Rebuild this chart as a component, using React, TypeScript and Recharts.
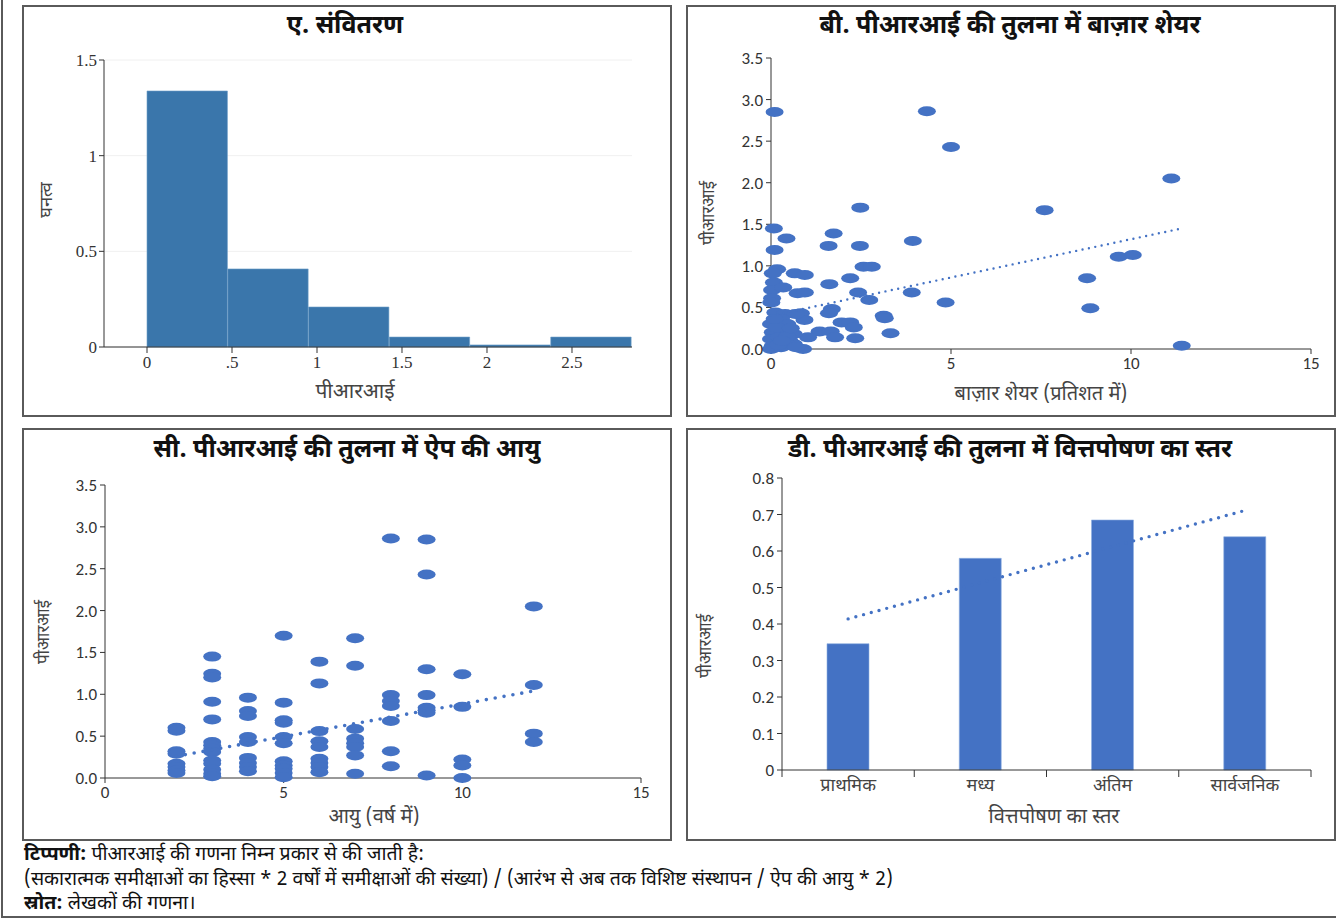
import React from 'react';
import {
  BarChart,
  Bar,
  XAxis,
  YAxis,
  CartesianGrid,
  ScatterChart,
  Scatter,
  ComposedChart,
  Line,
} from 'recharts';

const HINDI = "'Noto Sans Devanagari', 'Lohit Devanagari', 'Noto Sans', sans-serif";
const NUM = "Carlito, 'Liberation Sans Narrow', 'Liberation Sans', sans-serif";
const SERIF = "'Liberation Serif', 'DejaVu Serif', serif";
const BLUE = '#4472C4';

// A. histogram (bin centres, bin width 0.475)
const binMid = [0.2375, 0.7125, 1.1875, 1.6625, 2.1375, 2.6125];
const binDensity = [1.338, 0.408, 0.209, 0.052, 0.011, 0.052];
const histTicks = [0, 0.5, 1, 1.5, 2, 2.5];
const histTickText = ['0', '.5', '1', '1.5', '2', '2.5'];

// B. PRI vs market share
const marketShare = [
  0.1, 4.33, 5.0, 11.12, 2.48, 7.6, 0.08, 0.43, 1.74, 1.6, 2.47, 3.94, 0.1, 9.66, 10.05,
  2.57, 2.8, 0.17, 0.05, 0.66, 0.94, 2.2, 8.78, 0.08, 0.03, 0.34, 1.62, 0.74, 0.94, 2.42,
  3.91, 0.03, 0.01, 2.73, 4.85, 8.87, 1.69, 1.61, 0.83, 0.93, 3.13, 3.16, 1.96, 2.2, 2.3,
  1.35, 1.66, 3.32, 1.03, 1.78, 2.34, 11.41, 0.89,
  0.12, 0.39, 0.68, 0.0, 0.28, 0.45, 0.05, 0.34, 0.63, 0.0, 0.22, 0.51, 0.05, 0.28, 0.63,
  0.16, 0.0, 0.4, 0.2, 0.45, 0.1, 0.55, 0.3, 0.7,
];
const priB = [
  2.85, 2.86, 2.43, 2.05, 1.7, 1.67, 1.45, 1.33, 1.39, 1.24, 1.24, 1.3, 1.19, 1.11, 1.13,
  0.99, 0.99, 0.96, 0.91, 0.91, 0.89, 0.85, 0.85, 0.8, 0.71, 0.74, 0.78, 0.67, 0.68, 0.68,
  0.68, 0.61, 0.56, 0.59, 0.56, 0.49, 0.48, 0.43, 0.43, 0.35, 0.4, 0.37, 0.32, 0.32, 0.26,
  0.21, 0.21, 0.19, 0.14, 0.14, 0.13, 0.04, 0.0,
  0.44, 0.42, 0.42, 0.3, 0.36, 0.3, 0.2, 0.22, 0.18, 0.12, 0.14, 0.1, 0.04, 0.02, 0.06,
  0.26, 0.0, 0.08, 0.05, 0.15, 0.36, 0.25, 0.1, 0.02,
];
const trendShare = [0, 11.41];
const trendPriB = [0.4, 1.45];

// C. PRI vs app age
const ageYears = [
  2, 2, 2, 2, 2, 2, 2, 2,
  3, 3, 3, 3, 3, 3, 3, 3, 3, 3, 3, 3, 3, 3,
  4, 4, 4, 4, 4, 4, 4, 4, 4,
  5, 5, 5, 5, 5, 5, 5, 5, 5, 5, 5,
  6, 6, 6, 6, 6, 6, 6, 6, 6,
  7, 7, 7, 7, 7, 7, 7, 7,
  8, 8, 8, 8, 8, 8, 8,
  9, 9, 9, 9, 9, 9, 9, 9,
  10, 10, 10, 10, 10,
  12, 12, 12, 12,
];
const priC = [
  0.6, 0.565, 0.32, 0.29, 0.17, 0.13, 0.09, 0.06,
  1.45, 1.245, 1.2, 0.91, 0.7, 0.43, 0.39, 0.35, 0.31, 0.21, 0.17, 0.1, 0.05, 0.02,
  0.96, 0.8, 0.74, 0.49, 0.43, 0.24, 0.18, 0.13, 0.08,
  1.7, 0.9, 0.69, 0.66, 0.49, 0.415, 0.2, 0.15, 0.11, 0.06, 0.01,
  1.39, 1.13, 0.56, 0.44, 0.37, 0.23, 0.18, 0.13, 0.07,
  1.67, 1.34, 0.585, 0.47, 0.415, 0.37, 0.27, 0.05,
  2.86, 0.99, 0.92, 0.86, 0.68, 0.32, 0.14,
  2.85, 2.43, 1.3, 0.99, 0.84, 0.81, 0.78, 0.03,
  1.24, 0.85, 0.22, 0.15, 0.0,
  2.05, 1.11, 0.53, 0.43,
];
const trendAge = [2, 12];
const trendPriC = [0.26, 1.04];

// D. PRI vs funding stage
const fundingStages = ['प्राथमिक', 'मध्य', 'अंतिम', 'सार्वजनिक'];
const priByStage = [0.346, 0.58, 0.685, 0.639];
const stageTrend = [0.414, 0.513, 0.612, 0.711];

const histData = binMid.map((mid, i) => ({ mid, density: binDensity[i] }));
const scatterB = marketShare.map((x, i) => ({ x, y: priB[i] }));
const trendB = trendShare.map((x, i) => ({ x, y: trendPriB[i] }));
const scatterC = ageYears.map((x, i) => ({ x, y: priC[i] }));
const trendC = trendAge.map((x, i) => ({ x, y: trendPriC[i] }));
const stageData = fundingStages.map((stage, i) => ({
  stage,
  pri: priByStage[i],
  trend: stageTrend[i],
}));

const Ellipse = (props: any) => (
  <ellipse cx={props.cx} cy={props.cy} rx={9} ry={5} fill={BLUE} />
);
const Nothing = () => <g />;

// category tick with tick marks on the band edges
const StageTick = (props: any) => {
  const { x, y, payload, index, visibleTicksCount } = props;
  const half = payload.offset || 0;
  const last = index === visibleTicksCount - 1;
  return (
    <g>
      <line x1={x - half} x2={x - half} y1={y - 8} y2={y - 1} stroke="#333" />
      {last && <line x1={x + half} x2={x + half} y1={y - 8} y2={y - 1} stroke="#333" />}
      <text x={x} y={y} dy={13} textAnchor="middle" fill="#444" fontSize={18} fontFamily={HINDI}>
        {payload.value}
      </text>
    </g>
  );
};

const abs = (left: number, top: number): React.CSSProperties => ({
  position: 'absolute',
  left,
  top,
});

function Panel({ left, top, width, height }: any) {
  return (
    <div
      style={{
        ...abs(left, top),
        width,
        height,
        border: '2px solid #5a5a5a',
        boxSizing: 'border-box',
      }}
    />
  );
}

function Title({ x, y, text }: any) {
  return (
    <div
      style={{
        ...abs(x, y),
        transform: 'translate(-50%, -50%)',
        whiteSpace: 'nowrap',
        fontFamily: HINDI,
        fontWeight: 700,
        fontSize: 25,
        color: '#111',
      }}
    >
      {text}
    </div>
  );
}

function AxisLabel({ x, y, text, rotate, size }: any) {
  return (
    <div
      style={{
        ...abs(x, y),
        transform: `translate(-50%, -50%)${rotate ? ' rotate(-90deg)' : ''}`,
        whiteSpace: 'nowrap',
        fontFamily: HINDI,
        fontSize: size || 17,
        color: '#444',
      }}
    >
      {text}
    </div>
  );
}

const numTick = { fill: '#333', fontSize: 17, fontFamily: NUM };
const serifTick = { fill: '#333', fontSize: 17, fontFamily: SERIF };

export default function App() {
  return (
    <div style={{ ...abs(0, 0), width: 1336, height: 918, background: '#fff', overflow: 'hidden' }}>
      <div
        style={{
          ...abs(1, -4),
          width: 1340,
          height: 922,
          borderLeft: '2px solid #5a5a5a',
          borderBottom: '2px solid #5a5a5a',
          boxSizing: 'border-box',
        }}
      />
      <Panel left={22} top={5} width={650} height={412} />
      <Panel left={686} top={5} width={650} height={412} />
      <Panel left={22} top={428} width={650} height={413} />
      <Panel left={686} top={428} width={650} height={413} />

      {/* A */}
      <div style={abs(24, 7)}>
        <BarChart
          width={646}
          height={408}
          data={histData}
          barCategoryGap={0}
          barGap={0}
          margin={{ top: 53, right: 38, bottom: 38, left: 40 }}
        >
          <CartesianGrid vertical={false} stroke="#f0f0f0" />
          <XAxis
            type="number"
            dataKey="mid"
            domain={[-0.253, 2.853]}
            allowDataOverflow
            ticks={histTicks}
            tickFormatter={(v: number) => histTickText[histTicks.indexOf(v)]}
            height={30}
            stroke="#333"
            tickSize={6}
            tickMargin={3}
            tick={serifTick}
          />
          <YAxis
            domain={[0, 1.5]}
            ticks={[0, 0.5, 1, 1.5]}
            width={40}
            stroke="#333"
            tickSize={5}
            tickMargin={2}
            tick={serifTick}
          />
          <Bar
            dataKey="density"
            barSize={80.4}
            fill="#3A76AB"
            stroke="#6d9dc8"
            strokeWidth={0.6}
            isAnimationActive={false}
          />
        </BarChart>
      </div>
      <Title x={345} y={27} text="ए. संवितरण" />
      <AxisLabel x={355} y={393} text="पीआरआई" size={21} />
      <AxisLabel x={47} y={200} text="घनत्व" rotate size={18} />

      {/* B */}
      <div style={abs(688, 7)}>
        <ScatterChart
          width={646}
          height={408}
          margin={{ top: 51, right: 23, bottom: 36, left: 43 }}
        >
          <XAxis
            type="number"
            dataKey="x"
            domain={[0, 15]}
            ticks={[0, 5, 10, 15]}
            height={30}
            stroke="#333"
            tickSize={5}
            tickMargin={3}
            tick={numTick}
          />
          <YAxis
            type="number"
            dataKey="y"
            domain={[0, 3.5]}
            ticks={[0, 0.5, 1, 1.5, 2, 2.5, 3, 3.5]}
            tickFormatter={(v: number) => v.toFixed(1)}
            width={40}
            stroke="#333"
            tickSize={5}
            tickMargin={3}
            tick={numTick}
          />
          <Scatter data={scatterB} shape={Ellipse} isAnimationActive={false} />
          <Scatter
            data={trendB}
            shape={Nothing}
            line={{ stroke: BLUE, strokeWidth: 2.4, strokeDasharray: '0 6.5', strokeLinecap: 'round' }}
            isAnimationActive={false}
          />
        </ScatterChart>
      </div>
      <Title x={1010} y={27} text="बी. पीआरआई की तुलना में बाज़ार शेयर" />
      <AxisLabel x={1041} y={395} text="बाज़ार शेयर (प्रतिशत में)" size={20} />
      <AxisLabel x={710} y={213} text="पीआरआई" rotate />

      {/* C */}
      <div style={abs(24, 430)}>
        <ScatterChart
          width={646}
          height={409}
          margin={{ top: 55, right: 29, bottom: 31, left: 41 }}
        >
          <XAxis
            type="number"
            dataKey="x"
            domain={[0, 15]}
            ticks={[0, 5, 10, 15]}
            height={30}
            stroke="#333"
            tickSize={5}
            tickMargin={3}
            tick={numTick}
          />
          <YAxis
            type="number"
            dataKey="y"
            domain={[0, 3.5]}
            ticks={[0, 0.5, 1, 1.5, 2, 2.5, 3, 3.5]}
            tickFormatter={(v: number) => v.toFixed(1)}
            width={40}
            stroke="#333"
            tickSize={5}
            tickMargin={3}
            tick={numTick}
          />
          <Scatter data={scatterC} shape={Ellipse} isAnimationActive={false} />
          <Scatter
            data={trendC}
            shape={Nothing}
            line={{ stroke: BLUE, strokeWidth: 3.6, strokeDasharray: '0 9', strokeLinecap: 'round' }}
            isAnimationActive={false}
          />
        </ScatterChart>
      </div>
      <Title x={347} y={451} text="सी. पीआरआई की तुलना में ऐप की आयु" />
      <AxisLabel x={374} y={818} text="आयु (वर्ष में)" size={20} />
      <AxisLabel x={45} y={632} text="पीआरआई" rotate />

      {/* D */}
      <div style={abs(688, 430)}>
        <ComposedChart
          width={646}
          height={409}
          data={stageData}
          margin={{ top: 48, right: 23, bottom: 39, left: 54 }}
        >
          <XAxis
            dataKey="stage"
            height={30}
            stroke="#333"
            tickLine={false}
            tickSize={6}
            tickMargin={2}
            tick={StageTick}
            interval={0}
          />
          <YAxis
            domain={[0, 0.8]}
            ticks={[0, 0.1, 0.2, 0.3, 0.4, 0.5, 0.6, 0.7, 0.8]}
            tickFormatter={(v: number) => (v === 0 ? '0' : v.toFixed(1))}
            width={40}
            stroke="#333"
            tickSize={5}
            tickMargin={3}
            tick={numTick}
          />
          <Bar
            dataKey="pri"
            barSize={42}
            fill={BLUE}
            stroke="#8fb0e0"
            strokeWidth={0.6}
            isAnimationActive={false}
          />
          <Line
            dataKey="trend"
            stroke={BLUE}
            strokeWidth={3.4}
            strokeDasharray="0 8"
            strokeLinecap="round"
            dot={false}
            isAnimationActive={false}
          />
        </ComposedChart>
      </div>
      <Title x={1010} y={451} text="डी. पीआरआई की तुलना में वित्तपोषण का स्तर" />
      <AxisLabel x={1054} y={818} text="वित्तपोषण का स्तर" size={20} />
      <AxisLabel x={707} y={646} text="पीआरआई" rotate />

      {/* footer */}
      <div
        style={{
          ...abs(24, 844),
          fontFamily: HINDI,
          fontSize: 19.5,
          lineHeight: '24.5px',
          color: '#111',
          whiteSpace: 'nowrap',
        }}
      >
        <div>
          <b>टिप्पणी:</b> पीआरआई की गणना निम्न प्रकार से की जाती है:
        </div>
        <div>
          (सकारात्मक समीक्षाओं का हिस्सा * 2 वर्षों में समीक्षाओं की संख्या) / (आरंभ से अब तक विशिष्ट संस्थापन / ऐप की आयु * 2)
        </div>
        <div>
          <b>स्रोत:</b> लेखकों की गणना।
        </div>
      </div>
    </div>
  );
}
